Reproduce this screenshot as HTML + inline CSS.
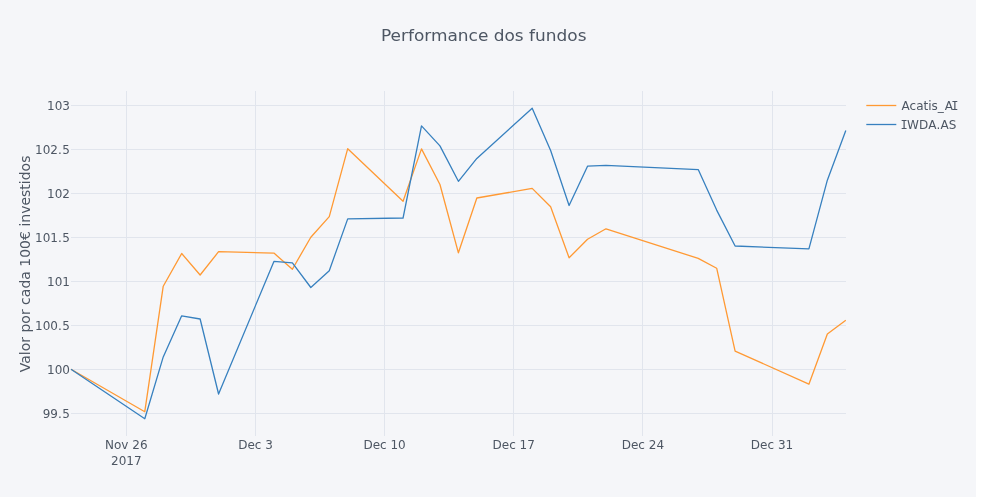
<!DOCTYPE html>
<html><head><meta charset="utf-8"><style>
html,body{margin:0;padding:0;background:#fff;}
body{width:982px;height:497px;overflow:hidden;}
svg{display:block;}
text{font-family:"DejaVu Sans","Liberation Sans",sans-serif;fill:#4D5663;}
</style></head><body>
<svg width="982" height="497" viewBox="0 0 982 497">
<rect x="0" y="0" width="976" height="497" fill="#F5F6F9"/>
<g stroke="#E1E5ED" stroke-width="1" shape-rendering="crispEdges">
<line x1="71" x2="845.8" y1="105.5" y2="105.5"/>
<line x1="71" x2="845.8" y1="149.5" y2="149.5"/>
<line x1="71" x2="845.8" y1="193.5" y2="193.5"/>
<line x1="71" x2="845.8" y1="237.5" y2="237.5"/>
<line x1="71" x2="845.8" y1="281.5" y2="281.5"/>
<line x1="71" x2="845.8" y1="325.5" y2="325.5"/>
<line x1="71" x2="845.8" y1="369.5" y2="369.5"/>
<line x1="71" x2="845.8" y1="413.5" y2="413.5"/>
<line x1="126.5" x2="126.5" y1="91" y2="436"/>
<line x1="255.5" x2="255.5" y1="91" y2="436"/>
<line x1="384.5" x2="384.5" y1="91" y2="436"/>
<line x1="513.5" x2="513.5" y1="91" y2="436"/>
<line x1="642.5" x2="642.5" y1="91" y2="436"/>
<line x1="772.5" x2="772.5" y1="91" y2="436"/>
</g>
<g fill="none" stroke-width="1.3" stroke-linejoin="round" stroke-linecap="butt">
<path d="M71.00,369.30L144.79,411.70L163.24,286.20L181.69,253.50L200.13,275.00L218.58,251.70L273.92,253.10L292.37,269.20L310.82,237.20L329.27,216.60L347.71,148.70L403.06,201.20L421.50,148.90L439.95,184.50L458.40,252.80L476.85,198.00L532.19,188.40L550.64,206.70L569.09,257.80L587.53,239.30L605.98,228.80L698.22,258.40L716.67,268.20L735.11,351.10L808.90,384.20L827.35,334.00L845.80,320.20" stroke="#ff9933"/>
<path d="M71.00,369.30L144.79,418.70L163.24,356.90L181.69,315.80L200.13,319.00L218.58,394.00L273.92,261.40L292.37,262.90L310.82,287.50L329.27,270.70L347.71,218.90L403.06,218.00L421.50,125.90L439.95,145.90L458.40,181.30L476.85,158.40L532.19,108.20L550.64,150.50L569.09,205.50L587.53,166.20L605.98,165.30L698.22,169.60L716.67,210.10L735.11,246.00L808.90,248.90L827.35,180.20L845.80,130.60" stroke="#3780bf"/>
</g>
<g font-size="12" text-anchor="end">
<text x="70" y="109.8">103</text>
<text x="70" y="153.8">102.<tspan dx="0.6">5</tspan></text>
<text x="70" y="197.8">102</text>
<text x="70" y="241.8">101.<tspan dx="0.6">5</tspan></text>
<text x="70" y="285.8">101</text>
<text x="70" y="329.8">100.<tspan dx="0.6">5</tspan></text>
<text x="70" y="373.8">100</text>
<text x="70" y="417.8">99.<tspan dx="0.6">5</tspan></text>
</g>
<g font-size="12" text-anchor="middle">
<text x="126.3" y="449">Nov 26</text><text x="126.3" y="465">2017</text>
<text x="255.5" y="449">Dec 3</text>
<text x="384.6" y="449">Dec 10</text>
<text x="513.7" y="449">Dec 17</text>
<text x="642.9" y="449">Dec 24</text>
<text x="772.0" y="449">Dec 31</text>
</g>
<text x="483.7" y="40.8" font-size="16.4" text-anchor="middle" textLength="205.6" lengthAdjust="spacingAndGlyphs">Performance dos fundos</text>
<text transform="translate(30,263.9) rotate(-90)" font-size="14" text-anchor="middle">Valor por cada 100€ investidos</text>
<g font-size="12">
<line x1="866.3" x2="896.3" y1="105.5" y2="105.5" stroke="#ff9933" stroke-width="1.3"/>
<text x="901.6" y="110">Acatis_<tspan dx="0.8">A</tspan><tspan font-family="DejaVu Sans Mono" dx="-1.5">I</tspan></text>
<line x1="866.3" x2="896.3" y1="124.5" y2="124.5" stroke="#3780bf" stroke-width="1.3"/>
<text x="900.6" y="129"><tspan font-family="DejaVu Sans Mono">I</tspan><tspan dx="-0.9" letter-spacing="0.2">WDA.AS</tspan></text>
</g>
</svg>
</body></html>
